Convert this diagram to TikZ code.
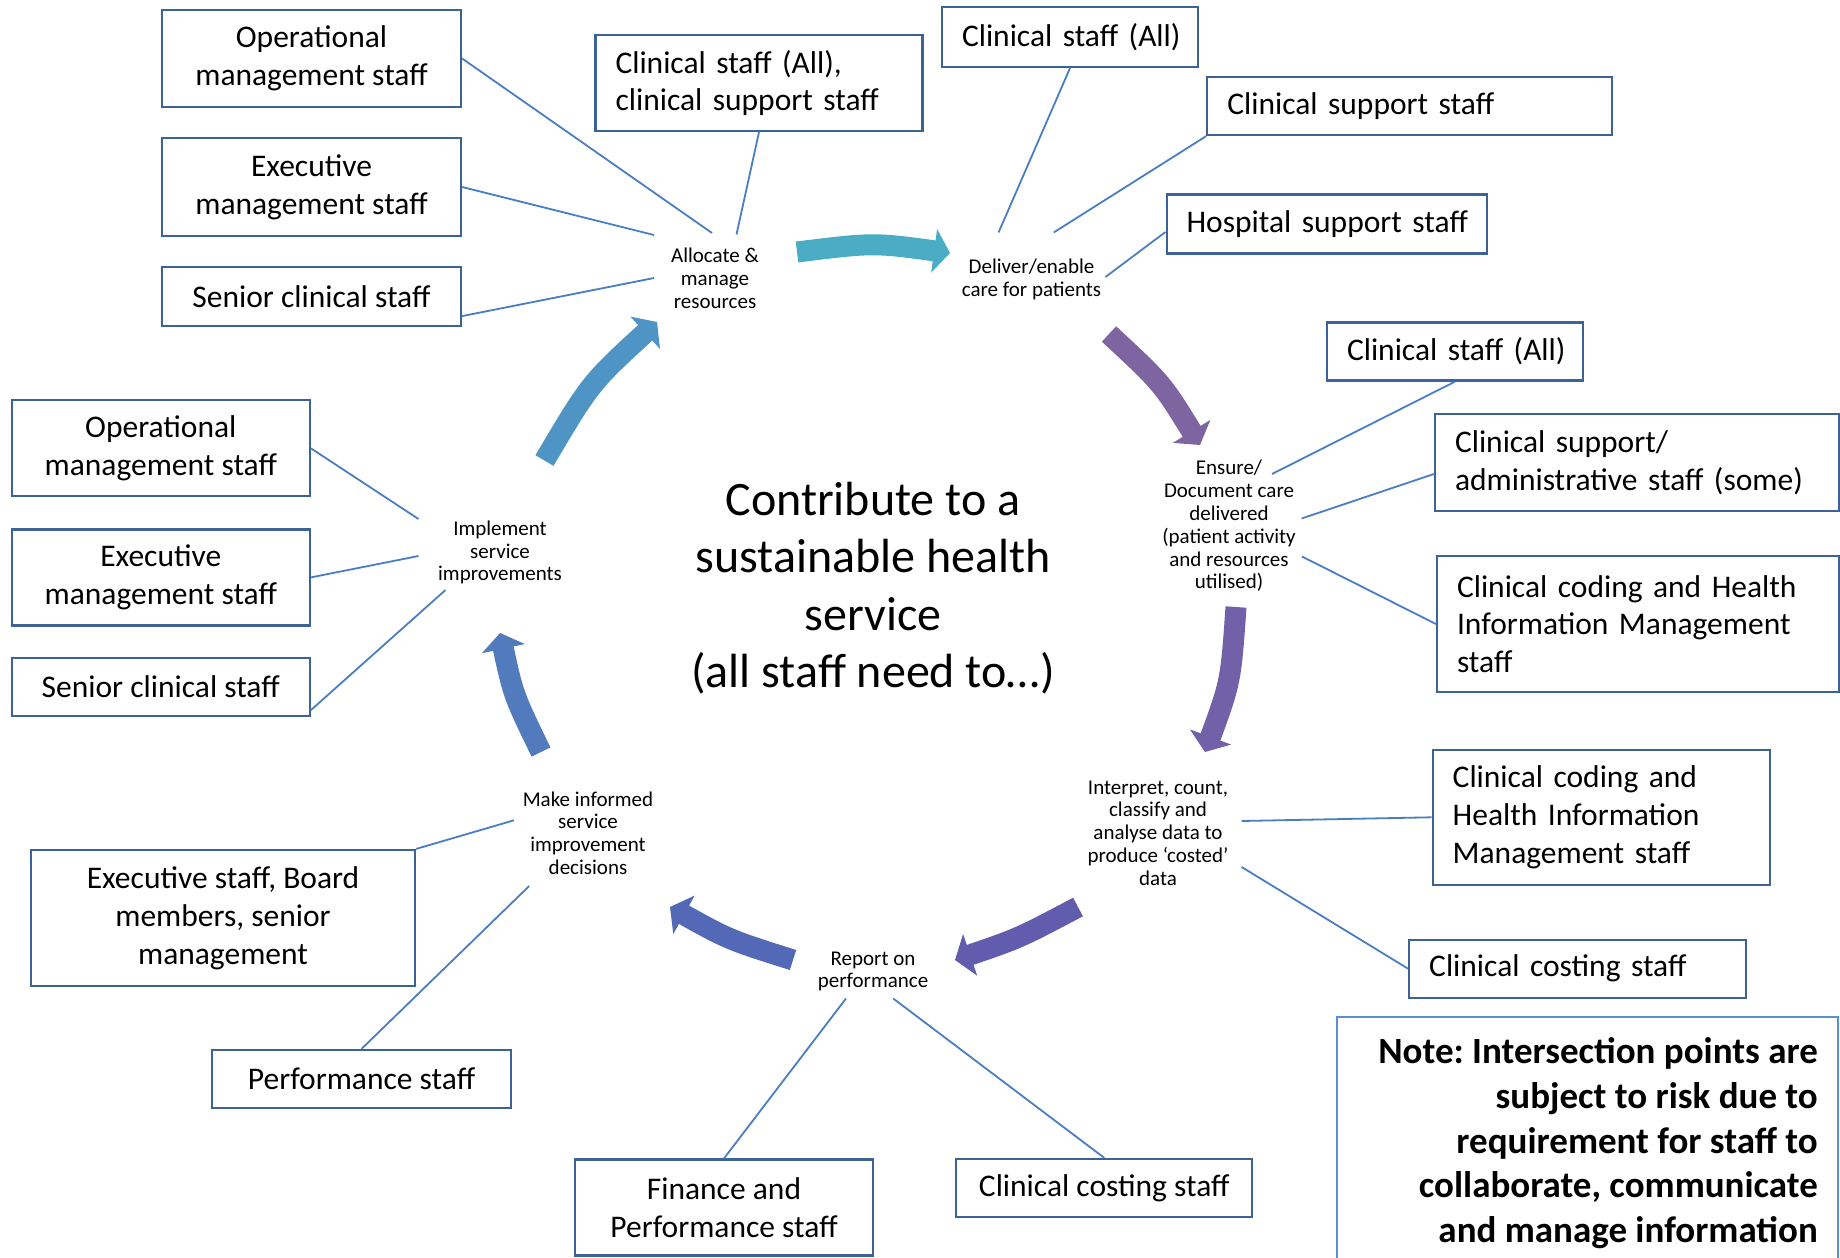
\documentclass[tikz,border=0pt]{standalone}
\usepackage{fontspec}
\setmainfont{Carlito}
\usetikzlibrary{calc}
\definecolor{boxline}{RGB}{60,98,150}
\definecolor{connline}{RGB}{74,126,193}
\definecolor{noteline}{RGB}{91,143,205}
\definecolor{arrA}{RGB}{75,172,198}
\definecolor{arrB}{RGB}{127,100,162}
\definecolor{arrC}{RGB}{114,96,168}
\definecolor{arrD}{RGB}{98,92,174}
\definecolor{arrE}{RGB}{84,104,184}
\definecolor{arrF}{RGB}{82,123,190}
\definecolor{arrG}{RGB}{78,148,196}
\newcommand{\cyclearrow}[2]{%
  \draw[draw=#1,line width=21pt,shorten >=12pt] (#2s) .. controls (#2c) .. (#2t);
  \coordinate (#2b) at ($(#2t)!16pt!(#2c)$);
  \fill[#1] ($(#2b)!22pt!90:(#2t)$) -- (#2t) -- ($(#2b)!22pt!-90:(#2t)$) -- cycle;
}
\frenchspacing
\begin{document}
\frenchspacing
\begin{tikzpicture}[x=1pt,y=-1pt,
  box/.style={draw=boxline,line width=2.2pt,fill=white,inner sep=0pt,align=center,
    font=\fontsize{31.5}{37.8}\selectfont\frenchspacing},
  lbox/.style={box,align=left,inner xsep=20pt,inner ysep=0pt},
  lab/.style={align=center,inner sep=0pt,font=\fontsize{21}{22.8}\selectfont\frenchspacing},
  conn/.style={draw=connline,line width=1.8pt}]
\useasboundingbox (0,0) rectangle (1840,1258);
\fill[white] (0,0) rectangle (1840,1258);

% ---------- cycle arrows ----------
\coordinate (a1s) at (797,252);   \coordinate (a1c) at (873.5,242.5); \coordinate (a1t) at (950,253);
\coordinate (a2s) at (1109,334);  \coordinate (a2c) at (1162.1,383.2); \coordinate (a2t) at (1200,445);
\coordinate (a3s) at (1236,607);  \coordinate (a3c) at (1230.8,681.7); \coordinate (a3t) at (1205,752);
\coordinate (a4s) at (1078,907);  \coordinate (a4c) at (1018.6,938.4); \coordinate (a4t) at (955,960);
\coordinate (a5s) at (793,960);   \coordinate (a5c) at (728.8,939.7);  \coordinate (a5t) at (670,907);
\coordinate (a6s) at (541,752);   \coordinate (a6c) at (513.3,695);    \coordinate (a6t) at (500,633);
\coordinate (a7s) at (544.5,460.5); \coordinate (a7c) at (590.4,382.9); \coordinate (a7t) at (657,322);
\cyclearrow{arrA}{a1}
\cyclearrow{arrB}{a2}
\cyclearrow{arrC}{a3}
\cyclearrow{arrD}{a4}
\cyclearrow{arrE}{a5}
\cyclearrow{arrF}{a6}
\cyclearrow{arrG}{a7}

% ---------- process labels ----------
\node[lab] (alloc)  at (715,278)    {Allocate \&\\manage\\resources};
\node[lab] (deliv)  at (1031.5,279) {Deliver/enable\\care for patients};
\node[lab] (ensure) at (1229,526)   {Ensure/\\Document care\\delivered\\(patient activity\\and resources\\utilised)};
\node[lab] (interp) at (1158,833)   {Interpret, count,\\classify and\\analyse data to\\produce ‘costed’\\data};
\node[lab] (report) at (873,971.5)  {Report on\\performance};
\node[lab] (make)   at (588,833)    {Make informed\\service\\improvement\\decisions};
\node[lab] (impl)   at (500,552.5)  {Implement\\service\\improvements};
\node[align=center,inner sep=0pt,font=\fontsize{48}{57.5}\selectfont] (centre) at (873,588)
  {Contribute to a\\sustainable health\\service\\(all staff need to…)};

% ---------- staff boxes ----------
\node[box,minimum width=299pt,minimum height=97pt] (opT) at (311.5,58.5) {Operational\\management staff};
\node[box,minimum width=299pt,minimum height=98pt] (exT) at (311.5,187) {Executive\\management staff};
\node[box,minimum width=299pt,minimum height=59pt] (snT) at (311.5,296.5) {Senior clinical staff};
\node[lbox,text width=287pt,minimum height=96pt] (clsT) at (759,83) {Clinical staff (All),\\clinical support staff};
\node[lbox,text width=216pt,minimum height=60pt] (caT) at (1070,37) {\mbox{Clinical staff (All)}};
\node[lbox,text width=365pt,minimum height=58pt] (csT) at (1409.8,106) {\mbox{Clinical support staff}};
\node[lbox,text width=280pt,minimum height=59pt] (hsT) at (1326.6,224) {\mbox{Hospital support staff}};
\node[lbox,text width=216pt,minimum height=58pt] (caR) at (1455,351.5) {\mbox{Clinical staff (All)}};
\node[lbox,text width=364pt,minimum height=97pt] (csaR) at (1637,462.5) {Clinical support/\\administrative staff (some)};
\node[lbox,text width=362pt,minimum height=136pt] (chR) at (1638,624) {Clinical coding and Health\\Information Management\\staff};
\node[lbox,text width=297pt,minimum height=135pt] (chR2) at (1601.2,817.3) {Clinical coding and\\Health Information\\Management staff};
\node[lbox,text width=297pt,minimum height=58pt] (ccR) at (1577.7,968.7) {\mbox{Clinical costing staff}};
\node[box,minimum width=298pt,minimum height=96pt] (opL) at (160.8,448.3) {Operational\\management staff};
\node[box,minimum width=298pt,minimum height=96pt] (exL) at (160.8,577.4) {Executive\\management staff};
\node[box,minimum width=298pt,minimum height=58pt] (snL) at (160.8,687) {Senior clinical staff};
\node[box,minimum width=384pt,minimum height=136pt] (ebm) at (223,918) {Executive staff, Board\\members, senior\\management};
\node[box,minimum width=299pt,minimum height=58pt] (perf) at (361.5,1079) {Performance staff};
\node[box,minimum width=298pt,minimum height=96pt] (finp) at (724,1207.5) {Finance and\\Performance staff};
\node[box,minimum width=296pt,minimum height=58pt] (ccB) at (1104.3,1188) {Clinical costing staff};

% ---------- connectors ----------
\coordinate (c1) at (712,233);
\coordinate (c2) at (654,235);
\coordinate (c3) at (654,278);
\coordinate (c4) at (736.5,234.5);
\coordinate (c5) at (998.6,232.4);
\coordinate (c6) at (1053.8,232.4);
\coordinate (c7) at (1105.4,277);
\coordinate (c8) at (1272,474);
\coordinate (c9) at (1301.6,518.5);
\coordinate (c10) at (1302,556.5);
\coordinate (c11) at (1241.6,821);
\coordinate (c12) at (1241.6,867);
\coordinate (c13) at (418.5,519);
\coordinate (c14) at (418.5,556);
\coordinate (c15) at (445.5,590);
\coordinate (c16) at (514,820.3);
\coordinate (c17) at (529.2,886);
\coordinate (c18) at (846,998.5);
\coordinate (c19) at (893.2,998.5);
\draw[conn] (opT.east) -- (c1);
\draw[conn] (exT.east) -- (c2);
\draw[conn] ([yshift=11pt]snT.south east) -- (c3);
\draw[conn] (clsT.south) -- (c4);
\draw[conn] (caT.south) -- (c5);
\draw[conn] (csT.south west) -- (c6);
\draw[conn] ([yshift=-8pt]hsT.west) -- (c7);
\draw[conn] (caR.south) -- (c8);
\draw[conn] ([yshift=-11.5pt]csaR.west) -- (c9);
\draw[conn] (chR.west) -- (c10);
\draw[conn] (chR2.west) -- (c11);
\draw[conn] (ccR.west) -- (c12);
\draw[conn] (opL.east) -- (c13);
\draw[conn] (exL.east) -- (c14);
\draw[conn] ([yshift=7pt]snL.south east) -- (c15);
\draw[conn] (ebm.north east) -- (c16);
\draw[conn] (perf.north) -- (c17);
\draw[conn] (finp.north) -- (c18);
\draw[conn] (ccB.north) -- (c19);

% ---------- note ----------
\draw[draw=noteline,line width=2pt] (1337,1258) -- (1337,1017) -- (1838,1017) -- (1838,1258);
\node[anchor=north east,align=right,inner sep=0pt,font=\fontsize{37}{44.7}\selectfont\bfseries\frenchspacing] (note) at (1818,1037.5)
  {Note: Intersection points are\\subject to risk due to\\requirement for staff to\\collaborate, communicate\\and manage information};
\end{tikzpicture}
\end{document}
